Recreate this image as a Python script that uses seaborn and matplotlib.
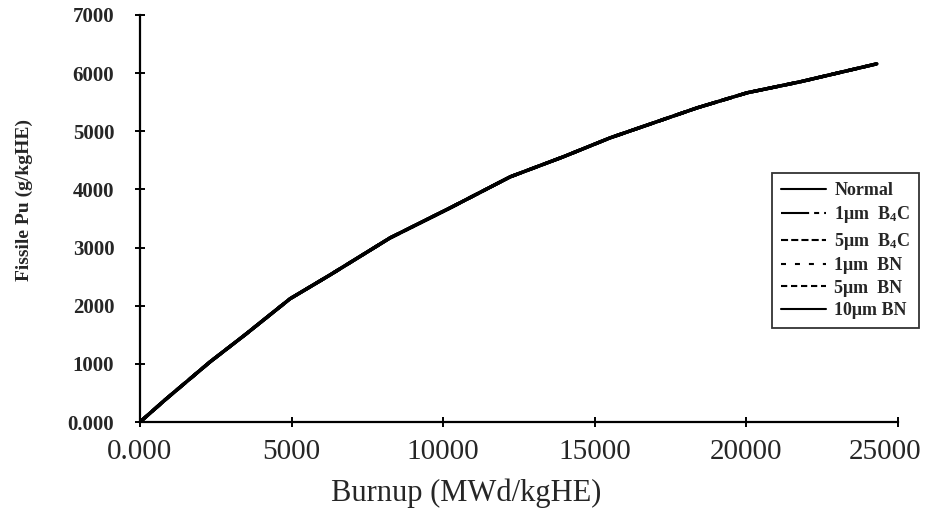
import matplotlib
matplotlib.use("Agg")
import matplotlib.pyplot as plt
import seaborn as sns
import pandas as pd

# ---- data ----
burnup = [0, 825, 2310, 3465, 4950, 6270, 8250, 10231, 12211, 13960, 15510,
          18380, 20030, 21780, 24300]
fissile_pu = [0, 380, 1034, 1500, 2120, 2530, 3167, 3683, 4217, 4561, 4888,
              5404, 5663, 5852, 6160]
series_names = ["Normal", "1μm  $\\mathregular{B_4C}$", "5μm  $\\mathregular{B_4C}$",
                "1μm  BN", "5μm  BN", "10μm BN"]
x_ticks = [0, 5000, 10000, 15000, 20000, 25000]
x_tick_labels = ["0.000", "5000", "10000", "15000", "20000", "25000"]
y_ticks = [0, 1000, 2000, 3000, 4000, 5000, 6000, 7000]
y_tick_labels = ["0.000", "1000", "2000", "3000", "4000", "5000", "6000", "7000"]

# all six curves coincide in the picture
rows = []
for name in series_names:
    for b, p in zip(burnup, fissile_pu):
        rows.append({"Burnup": b, "Pu": p, "Series": name})
df = pd.DataFrame(rows)

sns.set_theme(style="white")
plt.rcParams["font.family"] = ["Liberation Serif", "DejaVu Serif"]
plt.rcParams["mathtext.fontset"] = "custom"
plt.rcParams["mathtext.rm"] = "Liberation Serif"

dashes = {
    series_names[0]: "",
    series_names[1]: (13.5, 2.4, 2.4, 2.4),
    series_names[2]: (3.4, 1.5),
    series_names[3]: (2.4, 4.3),
    series_names[4]: (3.0, 1.8),
    series_names[5]: "",
}
palette = {n: "black" for n in series_names}

fig = plt.figure(figsize=(9.27, 5.09), dpi=100)
ax = fig.add_axes([140 / 927, 1 - 422 / 509, 758 / 927, 407 / 509])

sns.lineplot(data=df, x="Burnup", y="Pu", hue="Series", style="Series",
             palette=palette, dashes=dashes, linewidth=2.4, ax=ax,
             hue_order=series_names, style_order=series_names, legend=True)

XPAD = 9
TICKLEN = 7
ax.set_xlim(0, 25000)
ax.set_ylim(0, 7000)
ax.set_xticks(x_ticks)
# the last label is drawn separately, shifted left as in the reference
ax.set_xticklabels(x_tick_labels[:-1] + [""], fontsize=21)
ax.annotate(x_tick_labels[-1], xy=(x_ticks[-1], 0), xycoords=("data", "axes fraction"),
            xytext=(17, -(TICKLEN / 2 + XPAD)), textcoords="offset points",
            ha="right", va="top", fontsize=21, annotation_clip=False)
ax.set_yticks(y_ticks)
ax.set_yticklabels(y_tick_labels, fontsize=15, fontweight="bold")

for s in ["top", "right"]:
    ax.spines[s].set_visible(False)
for s in ["left", "bottom"]:
    ax.spines[s].set_linewidth(1.6)
    ax.spines[s].set_color("black")

ax.tick_params(axis="both", direction="inout", length=TICKLEN, width=1.4, color="black",
               bottom=True, left=True)
ax.tick_params(axis="y", pad=15)
ax.tick_params(axis="x", pad=XPAD)

ax.set_xlabel("Burnup (MWd/kgHE)", fontsize=22)
ax.xaxis.set_label_coords(0.430, -0.140)
ax.set_ylabel("Fissile Pu (g/kgHE)", fontsize=14, fontweight="bold")
ax.yaxis.set_label_coords(-0.141, 0.545)

leg = ax.legend(loc="upper left", bbox_to_anchor=(772 / 927, 1 - 173 / 509),
                bbox_transform=fig.transFigure, frameon=True, fancybox=False,
                edgecolor="black", fontsize=13, handlelength=2.5, handletextpad=0.45,
                labelspacing=0.3, borderpad=0.5, borderaxespad=0)
leg.get_frame().set_linewidth(1.3)
for t in leg.get_texts():
    t.set_fontweight("bold")
for h in leg.get_lines():
    h.set_linewidth(1.5)
    h.set_color("black")

fig.savefig("out.png", dpi=100)
